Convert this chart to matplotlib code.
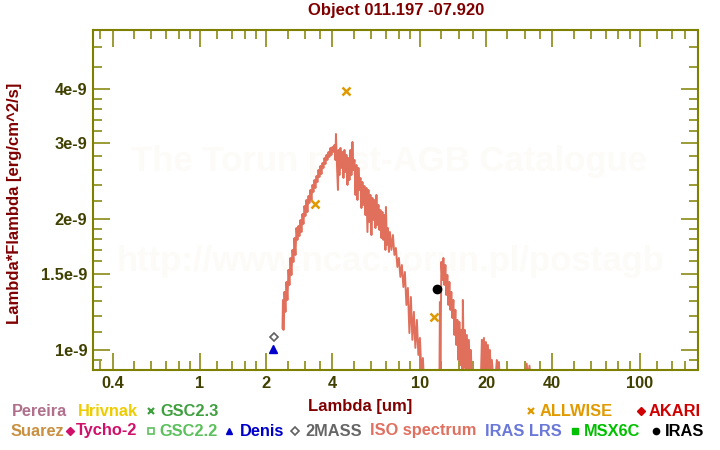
import matplotlib
matplotlib.use("Agg")
import matplotlib.pyplot as plt
from matplotlib.ticker import FixedLocator, FixedFormatter, NullFormatter
from matplotlib.lines import Line2D
import numpy as np

plt.rcParams['font.family'] = ['Liberation Sans', 'DejaVu Sans']
plt.rcParams['font.weight'] = 'bold'

# ---------------- data (flux in units of 1e-9 erg/cm^2/s) ----------------
iso_lam = [2.371, 2.383, 2.396, 2.421, 2.447, 2.472, 2.498, 2.525, 2.551, 2.578,
           2.605, 2.633, 2.660, 2.688, 2.717, 2.745, 2.774, 2.803, 2.833, 2.862,
           2.893, 2.923, 2.954, 2.985, 3.016, 3.048, 3.080, 3.113, 3.145, 3.178,
           3.212, 3.246, 3.280, 3.314, 3.349, 3.385, 3.420, 3.456, 3.493, 3.529,
           3.567, 3.604, 3.642, 3.681, 3.719, 3.758, 3.798, 3.838, 3.878, 3.919,
           3.960, 4.002, 4.044, 4.087, 4.130, 4.151, 4.195, 4.239, 4.270, 4.306,
           4.351, 4.398, 4.444, 4.491, 4.538, 4.586, 4.634, 4.683, 4.732, 4.782,
           4.832, 4.883, 4.934, 4.986, 5.039, 5.092, 5.145, 5.200, 5.254, 5.310,
           5.366, 5.421, 5.478, 5.536, 5.594, 5.653, 5.713, 5.773, 5.834, 5.895,
           5.957, 6.020, 6.083, 6.147, 6.212, 6.277, 6.343, 6.410, 6.477, 6.546,
           6.614, 6.684, 6.754, 6.825, 6.897, 6.970, 7.006, 7.080, 7.154, 7.229,
           7.305, 7.421, 7.538, 7.657, 7.778, 7.900, 8.025, 8.152, 8.281, 8.411,
           8.547, 8.681, 8.818, 8.958, 9.098, 9.242, 9.389, 9.537, 9.688, 9.841,
           10.00, 10.16, 10.32, 10.43, 10.65, 11.10, 11.95, 12.27, 12.33, 12.39,
           12.52, 12.65, 12.79, 12.92, 13.06, 13.19, 13.33, 13.47, 13.62, 13.76,
           13.90, 14.05, 14.20, 14.35, 14.50, 14.65, 14.81, 14.96, 15.12, 15.28,
           15.44, 15.60, 15.68, 15.85, 16.02, 16.18, 16.35, 16.53, 16.70, 16.88,
           17.05, 17.23, 17.60, 18.35, 18.94, 19.14, 19.34, 19.55, 19.75, 19.96,
           20.17, 20.38, 20.60, 20.81, 21.03, 21.25, 21.70, 22.16, 22.39, 22.63,
           22.87, 23.10, 23.84, 29.90, 30.60, 31.00, 31.50, 32.00, 32.50]
iso_flux = [1.124, 1.304, 1.112, 1.361, 1.224, 1.435, 1.304, 1.530, 1.412, 1.630,
            1.489, 1.701, 1.596, 1.812, 1.656, 1.911, 1.794, 1.932, 1.832, 1.994,
            1.871, 2.059, 1.952, 2.148, 2.037, 2.218, 2.081, 2.266, 2.183, 2.339,
            2.218, 2.402, 2.314, 2.466, 2.364, 2.519, 2.440, 2.601, 2.506, 2.657,
            2.546, 2.700, 2.629, 2.772, 2.685, 2.817, 2.743, 2.862, 2.787, 2.924,
            2.817, 2.939, 2.862, 2.970, 2.743, 3.149, 2.671, 2.339, 2.893, 2.532,
            2.924, 2.629, 2.862, 2.493, 2.893, 2.573, 2.817, 2.402, 2.772, 2.466,
            2.893, 2.532, 3.018, 2.601, 2.743, 2.278, 2.671, 2.218, 2.629, 2.339,
            2.493, 2.125, 2.440, 2.160, 2.389, 2.047, 2.364, 1.871, 2.339, 1.973,
            2.278, 1.841, 2.242, 1.994, 2.218, 1.911, 2.278, 1.942, 2.160, 1.891,
            2.103, 1.812, 2.081, 1.794, 2.047, 1.701, 2.137, 1.747, 1.911, 1.683,
            1.871, 1.701, 1.841, 1.656, 1.719, 1.554, 1.630, 1.474, 1.570, 1.397,
            1.513, 1.270, 1.390, 1.094, 1.325, 1.055, 1.224, 1.011, 1.173, 0.974,
            1.066, 0.890, 0.958, 0.853, 0.830, 0.809, 0.809, 0.853, 1.290, 0.876,
            1.596, 1.450, 1.630, 1.412, 1.570, 1.339, 1.489, 1.270, 1.435, 1.237,
            1.361, 1.185, 1.304, 1.083, 1.237, 1.027, 1.173, 0.948, 1.160, 0.923,
            1.112, 0.890, 1.304, 0.909, 1.112, 0.890, 1.083, 0.876, 1.055, 0.871,
            1.000, 0.862, 0.830, 0.809, 0.862, 1.055, 0.890, 1.066, 0.899, 1.043,
            0.885, 1.027, 0.890, 1.000, 0.876, 0.948, 0.830, 0.890, 0.948, 0.876,
            0.938, 0.853, 0.809, 0.820, 0.930, 0.860, 0.920, 0.840, 0.810]

allwise_lam = [3.35, 4.6, 11.6]
allwise_flux = [2.17, 3.96, 1.19]
iras_lam = [12.0]
iras_flux = [1.38]
twomass_lam = [2.16]
twomass_flux = [1.07]
denis_lam = [2.15]
denis_flux = [1.005]

SCALE = 1e-9

x_major = [0.4, 1, 2, 4, 10, 20, 40, 100]
x_major_labels = ['0.4', '1', '2', '4', '10', '20', '40', '100']
x_minor = [0.35, 0.5, 0.6, 0.7, 0.8, 0.9, 1.2, 1.4, 1.6, 1.8, 2.5, 3, 3.5,
           5, 6, 7, 8, 9, 12.5, 15, 17.5, 25, 30, 35, 50, 60, 70, 80, 90,
           120, 140, 160]
y_major = [1.0, 1.5, 2.0, 3.0, 4.0]
y_major_labels = ['1e-9', '1.5e-9', '2e-9', '3e-9', '4e-9']
y_minor = [0.95, 1.1, 1.2, 1.3, 1.4, 1.6, 1.7, 1.8, 1.9, 2.2, 2.4, 2.6, 2.8,
           3.2, 3.4, 3.6, 3.8, 4.5, 5.0]

# ---------------- figure ----------------
W, H = 720, 450
fig = plt.figure(figsize=(7.2, 4.5), dpi=100)
ax = fig.add_axes([93 / W, 1 - 370 / H, (698 - 93) / W, (370 - 30) / H])

OLIVE = '#808000'
TICKTXT = '#404000'
DARKRED = '#800000'

# watermark (behind the data)
ax.text(389 / W, 1 - 162 / H, 'The Torun post-AGB Catalogue', fontsize=25,
        color='#fcfbf7', ha='center', va='center', zorder=0.5,
        transform=fig.transFigure)
ax.text(391 / W, 1 - 262 / H, 'http://www.ncac.torun.pl/postagb', fontsize=25,
        color='#fcfbf7', ha='center', va='center', zorder=0.5,
        transform=fig.transFigure)

ax.plot(iso_lam, np.array(iso_flux) * SCALE, color='#e0705c', lw=1.4, zorder=2)
ax.plot(allwise_lam, np.array(allwise_flux) * SCALE, ls='none', marker='x',
        ms=5.5, mew=1.8, color='#e09a00', zorder=4)
ax.plot(iras_lam, np.array(iras_flux) * SCALE, ls='none', marker='o', ms=6,
        color='black', zorder=4)
ax.plot(twomass_lam, np.array(twomass_flux) * SCALE, ls='none', marker='D',
        ms=4.5, mfc='white', mec='#606060', mew=1.2, zorder=4)
ax.plot(denis_lam, np.array(denis_flux) * SCALE, ls='none', marker='^', ms=5.5,
        color='#0000cc', zorder=4)

ax.set_xscale('log')
ax.set_yscale('log')
ax.set_xlim(0.326, 184)
ax.set_ylim(0.899e-9, 5.47e-9)

ax.xaxis.set_major_locator(FixedLocator(x_major))
ax.xaxis.set_major_formatter(FixedFormatter(x_major_labels))
ax.xaxis.set_minor_locator(FixedLocator(x_minor))
ax.xaxis.set_minor_formatter(NullFormatter())
ax.yaxis.set_major_locator(FixedLocator([v * SCALE for v in y_major]))
ax.yaxis.set_major_formatter(FixedFormatter(y_major_labels))
ax.yaxis.set_minor_locator(FixedLocator([v * SCALE for v in y_minor]))
ax.yaxis.set_minor_formatter(NullFormatter())

for s in ax.spines.values():
    s.set_color(OLIVE)
    s.set_linewidth(1.5)
    s.set_zorder(5)
ax.tick_params(which='both', direction='in', top=True, right=True, color=OLIVE,
               width=1.1)
ax.tick_params(which='major', length=12.5, labelsize=11.8, labelcolor=TICKTXT,
               pad=4)
ax.tick_params(which='minor', length=6.5)
for lab in ax.get_xticklabels() + ax.get_yticklabels():
    lab.set_fontweight('bold')

fig.text(396 / W, 1 - 11 / H, 'Object 011.197 -07.920', fontsize=12,
         color=DARKRED, ha='center', va='center', fontweight='bold')
fig.text(15 / W, 1 - 203 / H, 'Lambda*Flambda [erg/cm^2/s]', fontsize=12,
         color=DARKRED, ha='center', va='center', rotation=90, fontweight='bold')
fig.text(360 / W, 1 - 407 / H, 'Lambda [um]', fontsize=12, color=DARKRED,
         ha='center', va='center', fontweight='bold')

# legend (two rows of coloured labels)
r1 = 1 - 411 / H
r2 = 1 - 431 / H
legend_texts = [
    (12, r1, 'Pereira', '#b0708c'),
    (78, r1, 'Hrivnak', '#eecc00'),
    (160, r1, 'GSC2.3', '#40a040'),
    (540, r1, 'ALLWISE', '#e09a00'),
    (649, r1, 'AKARI', '#d00000'),
    (11, r2, 'Suarez', '#c89040'),
    (76, r2, 'Tycho-2', '#d0106a'),
    (159, r2, 'GSC2.2', '#5cc05c'),
    (240, r2, 'Denis', '#0000cc'),
    (305, r2, '2MASS', '#666666'),
    (370, r2, 'ISO spectrum', '#e07060'),
    (485, r2, 'IRAS LRS', '#6a78d8'),
    (584, r2, 'MSX6C', '#00c000'),
    (665, r2, 'IRAS', '#000000'),
]
for x, y, t, c in legend_texts:
    fig.text(x / W, y, t, fontsize=11.8, color=c, ha='left', va='center',
             fontweight='bold')

legend_marks = [
    (151, r1, 'x', '#40a040', True),
    (530.5, r1, 'x', '#e09a00', True),
    (641, r1, 'D', '#d00000', True),
    (70, r2, 'D', '#d0106a', True),
    (151, r2, 's', '#5cc05c', False),
    (229.5, r2, '^', '#0000cc', True),
    (294.5, r2, 'D', '#606060', False),
    (575, r2, 's', '#00c000', True),
    (655.5, r2, 'o', '#000000', True),
]
for x, y, m, c, filled in legend_marks:
    ms = 4.5 if m in ('D', 's', 'o') else 5
    if m == 'x':
        ln = Line2D([x / W], [y], marker='x', ms=5, mew=1.6, color=c, ls='none',
                    transform=fig.transFigure)
    elif filled:
        ln = Line2D([x / W], [y], marker=m, ms=ms, color=c, ls='none',
                    transform=fig.transFigure)
    else:
        ln = Line2D([x / W], [y], marker=m, ms=ms, mfc='white', mec=c, mew=1.2,
                    ls='none', transform=fig.transFigure)
    fig.add_artist(ln)

fig.savefig('out.png', dpi=100)
